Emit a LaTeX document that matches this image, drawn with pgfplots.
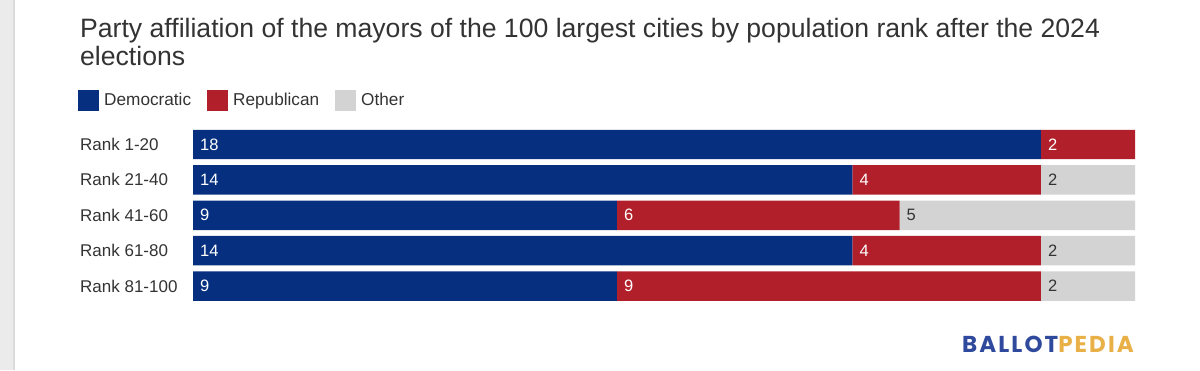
\documentclass[border=0pt]{standalone}
\usepackage{pgfplots}
\pgfplotsset{compat=1.18}
\usepackage{fontspec}
\setmainfont{Liberation Sans}
\newfontfamily\logofont[LetterSpace=9]{Poppins}
\definecolor{dem}{HTML}{06307F}
\definecolor{rep}{HTML}{B01F2A}
\definecolor{oth}{HTML}{D3D3D3}
\definecolor{txt}{HTML}{333333}
\definecolor{bpblue}{HTML}{2F4A9C}
\definecolor{bpgold}{HTML}{E9B048}
\tikzset{vlab/.style={anchor=west, inner sep=0pt, xshift=7pt, font=\fontsize{16.5}{18}\selectfont}}
\begin{document}
\begin{tikzpicture}[x=1pt,y=1pt]
\path[use as bounding box] (0,0) rectangle (1200,-370);
% screenshot side strip
\fill[black!8] (0,0) rectangle (14,-370);
\fill[black!14] (13,0) rectangle (15,-370);
% title
\node[anchor=base west, inner sep=0pt, text=txt, font=\fontsize{26.6}{29}\selectfont] at (80,-37) {Party affiliation of the mayors of the 100 largest cities by population rank after the 2024};
\node[anchor=base west, inner sep=0pt, text=txt, font=\fontsize{26.6}{29}\selectfont] at (80,-65.5) {elections};
\begin{axis}[
  at={(193pt,-126.8pt)}, anchor=north west,
  scale only axis, width=942pt, height=177pt,
  xbar stacked, bar width=0.833,
  xmin=0, xmax=20, ymin=-0.5, ymax=4.5, y dir=reverse,
  axis line style={draw=none}, tick style={draw=none},
  xtick=\empty,
  ytick={0,1,2,3,4},
  yticklabels={Rank 1-20,Rank 21-40,Rank 41-60,Rank 61-80,Rank 81-100},
  yticklabel style={anchor=west, xshift=-113pt, inner sep=0pt, text=txt, font=\fontsize{17}{19}\selectfont},
  legend style={draw=none, fill=none, at={(axis description cs:0,1)}, anchor=west, xshift=-118pt, yshift=26.8pt,
    legend columns=-1, font=\fontsize{17.2}{19}\selectfont, text=txt,
    nodes={inner sep=0pt},
    /tikz/every odd column/.append style={column sep=5pt},
    /tikz/every even column/.append style={column sep=16pt},
    legend cell align=left},
  legend image code/.code={\fill[#1, draw=none] (0pt,-10.5pt) rectangle (21pt,10.5pt);},
]
\addplot[fill=dem, draw=none] coordinates {(18,0) (14,1) (9,2) (14,3) (9,4)};
\addplot[fill=rep, draw=none] coordinates {(2,0) (4,1) (6,2) (4,3) (9,4)};
\addplot[fill=oth, draw=none] coordinates {(0,0) (2,1) (5,2) (2,3) (2,4)};
\legend{Democratic,Republican,Other}
\coordinate (d0) at (axis cs:0,0);
\coordinate (d1) at (axis cs:0,1);
\coordinate (d2) at (axis cs:0,2);
\coordinate (d3) at (axis cs:0,3);
\coordinate (d4) at (axis cs:0,4);
\coordinate (r0) at (axis cs:18,0);
\coordinate (r1) at (axis cs:14,1);
\coordinate (r2) at (axis cs:9,2);
\coordinate (r3) at (axis cs:14,3);
\coordinate (r4) at (axis cs:9,4);
\coordinate (o1) at (axis cs:18,1);
\coordinate (o2) at (axis cs:15,2);
\coordinate (o3) at (axis cs:18,3);
\coordinate (o4) at (axis cs:18,4);
\end{axis}
\node[vlab, text=white] at (d0) {18};
\node[vlab, text=white] at (d1) {14};
\node[vlab, text=white] at (d2) {9};
\node[vlab, text=white] at (d3) {14};
\node[vlab, text=white] at (d4) {9};
\node[vlab, text=white] at (r0) {2};
\node[vlab, text=white] at (r1) {4};
\node[vlab, text=white] at (r2) {6};
\node[vlab, text=white] at (r3) {4};
\node[vlab, text=white] at (r4) {9};
\node[vlab, text=txt] at (o1) {2};
\node[vlab, text=txt] at (o2) {5};
\node[vlab, text=txt] at (o3) {2};
\node[vlab, text=txt] at (o4) {2};
\node[anchor=base west, inner sep=0pt, text=bpblue, font=\logofont\fontseries{sb}\fontsize{23}{26}\selectfont] at (962,-352) {BALLOT\textcolor{bpgold}{PEDIA}};
\end{tikzpicture}
\end{document}
